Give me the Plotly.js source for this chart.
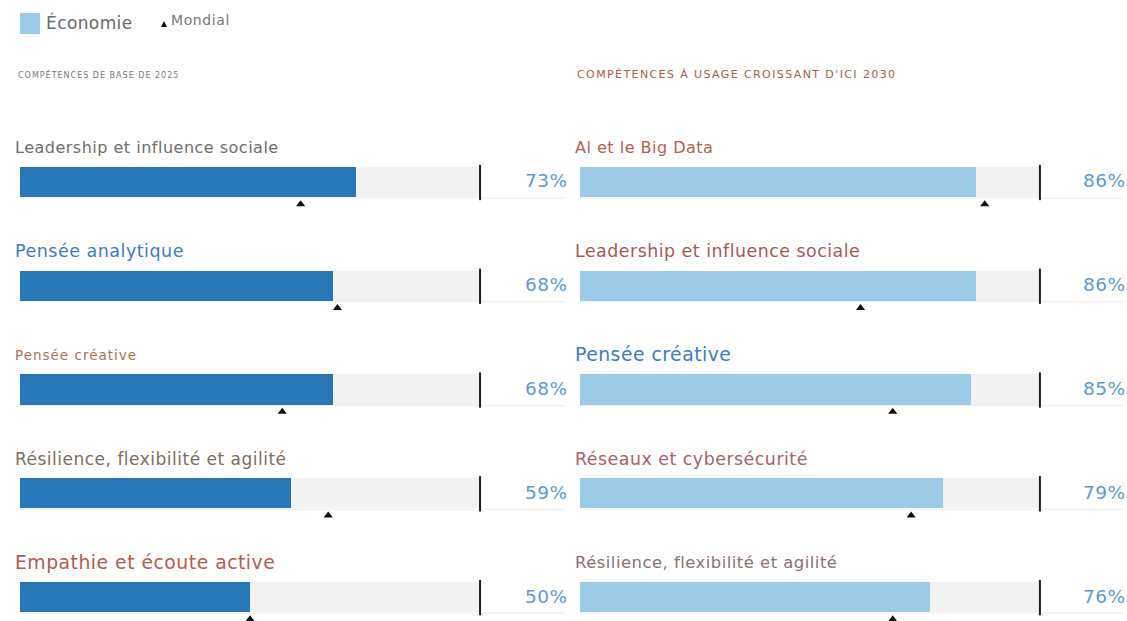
<!DOCTYPE html>
<html>
<head>
<meta charset="utf-8">
<script src="https://cdn.plot.ly/plotly-3.0.1.min.js"></script>
<style>html,body{margin:0;padding:0;background:#fff}#chart{width:1127px;height:621px}</style>
</head>
<body>
<div id="chart"></div>
<script>
// ---- data ----
const leftTitle = "COMPÉTENCES DE BASE DE 2025";
const rightTitle = "COMPÉTENCES À USAGE CROISSANT D'ICI 2030";
const legendNames = ["Économie", "Mondial"];
const leftSkills = ["Leadership et influence sociale", "Pensée analytique", "Pensée créative", "Résilience, flexibilité et agilité", "Empathie et écoute active"];
const leftEconomy = [73, 68, 68, 59, 50];
const leftWorld = [61, 69, 57, 67, 50];
const rightSkills = ["Al et le Big Data", "Leadership et influence sociale", "Pensée créative", "Réseaux et cybersécurité", "Résilience, flexibilité et agilité"];
const rightEconomy = [86, 86, 85, 79, 76];
const rightWorld = [88, 61, 68, 72, 68];
const fullScale = 100;

// ---- styles ----
const leftLabelColors = ["#6e6e6e", "#3d7cc4", "#b0714f", "#7d6e62", "#b35e4c"];
const leftLabelSizes = [16, 17.5, 13.5, 17, 18.8];
const leftLabelSpacing = [0.5, 0.5, 1, 0.5, 0.5];
const rightLabelColors = ["#b55f4f", "#a55a56", "#3d7cc4", "#a3646a", "#8e6f74"];
const rightLabelSizes = [16, 17.4, 18.8, 17.4, 16.4];
const rightLabelSpacing = [0.5, 0.5, 0.5, 0.5, 0.5];
const FONT = "DejaVu Sans, Verdana, sans-serif";
const sp = (t, s) => '<span style="letter-spacing:' + s + 'px">' + t + '</span>';

const rows = leftSkills.map((_, i) => i);
const barW = 0.29;
const triOff = 0.215;
const labOff = -0.335;
const leftMax = 118.9, rightMax = 118.5;
const W = 1127, H = 621;

const traces = [
  {type: 'bar', orientation: 'h', x: rows.map(() => fullScale), y: rows, width: barW, xaxis: 'x', yaxis: 'y',
   marker: {color: '#f2f2f2'}, showlegend: false, hoverinfo: 'skip'},
  {type: 'bar', orientation: 'h', x: leftEconomy, y: rows, width: barW, xaxis: 'x', yaxis: 'y',
   marker: {color: '#2878b7'}, name: legendNames[0], showlegend: false},
  {type: 'bar', orientation: 'h', x: rows.map(() => fullScale), y: rows, width: barW, xaxis: 'x2', yaxis: 'y2',
   marker: {color: '#f2f2f2'}, showlegend: false, hoverinfo: 'skip'},
  {type: 'bar', orientation: 'h', x: rightEconomy, y: rows, width: barW, xaxis: 'x2', yaxis: 'y2',
   marker: {color: '#9ccbe7'}, name: legendNames[0], showlegend: false},
  {type: 'scatter', mode: 'markers', x: leftWorld, y: rows.map(r => r + triOff), xaxis: 'x', yaxis: 'y',
   marker: {symbol: 'triangle-up', size: 8, color: '#111'}, name: legendNames[1], showlegend: false},
  {type: 'scatter', mode: 'markers', x: rightWorld, y: rows.map(r => r + triOff), xaxis: 'x2', yaxis: 'y2',
   marker: {symbol: 'triangle-up', size: 8, color: '#111'}, name: legendNames[1], showlegend: false}
];

const shapes = [];
const annotations = [];
[['x', 'y', leftSkills, leftEconomy, leftLabelColors, leftLabelSizes, leftLabelSpacing, leftMax],
 ['x2', 'y2', rightSkills, rightEconomy, rightLabelColors, rightLabelSizes, rightLabelSpacing, rightMax]].forEach(([xa, ya, skills, vals, cols, sizes, sps, mx]) => {
  rows.forEach(i => {
    shapes.push({type: 'line', xref: xa, yref: ya, x0: 0, x1: mx - 0.5, y0: i + barW / 2 + 0.01, y1: i + barW / 2 + 0.01,
      line: {color: '#ececec', width: 1}, layer: 'below'});
    shapes.push({type: 'line', xref: xa, yref: ya, x0: fullScale, x1: fullScale, y0: i - barW / 2 - 0.02, y1: i + barW / 2 + 0.03,
      line: {color: '#1e1e1e', width: 2}});
    annotations.push({xref: xa, yref: ya, x: 0, y: i + labOff, xanchor: 'left', yanchor: 'middle', xshift: -7,
      text: sp(skills[i], sps[i]), showarrow: false, font: {family: FONT, size: sizes[i], color: cols[i]}});
    annotations.push({xref: xa, yref: ya, x: mx, y: i, xanchor: 'right', yanchor: 'middle', xshift: 3, yshift: 1,
      text: sp(vals[i] + '%', 0.5), showarrow: false, font: {family: FONT, size: 18.5, color: '#5a9bd3'}});
  });
});
// panel titles
annotations.push({xref: 'paper', yref: 'paper', x: 16 / W, y: 1 - 75 / H, xanchor: 'left', yanchor: 'middle',
  text: sp(leftTitle, 1.0), showarrow: false, font: {family: FONT, size: 8, color: '#7a7a7a'}});
annotations.push({xref: 'paper', yref: 'paper', x: 575 / W, y: 1 - 75 / H, xanchor: 'left', yanchor: 'middle',
  text: sp(rightTitle, 1.4), showarrow: false, font: {family: FONT, size: 11, color: '#a66048'}});
// legend (drawn manually)
shapes.push({type: 'rect', xref: 'paper', yref: 'paper', x0: 20 / W, x1: 40 / W, y0: 1 - 34 / H, y1: 1 - 13 / H,
  fillcolor: '#9ccbe7', line: {width: 0}});
shapes.push({type: 'path', xref: 'paper', yref: 'paper',
  path: `M ${161 / W} ${1 - 27 / H} L ${164 / W} ${1 - 21 / H} L ${167 / W} ${1 - 27 / H} Z`,
  fillcolor: '#111', line: {width: 0}});
annotations.push({xref: 'paper', yref: 'paper', x: 44 / W, y: 1 - 22 / H, xanchor: 'left', yanchor: 'middle',
  text: sp(legendNames[0], 0.4), showarrow: false, font: {family: FONT, size: 17, color: '#6a6a6a'}});
annotations.push({xref: 'paper', yref: 'paper', x: 169 / W, y: 1 - 20 / H, xanchor: 'left', yanchor: 'middle',
  text: sp(legendNames[1], 0.6), showarrow: false, font: {family: FONT, size: 14, color: '#777'}});

const yRange = [4.231, -1.754];
const axisOff = {showgrid: false, zeroline: false, showticklabels: false, ticks: '', showline: false, fixedrange: true};
const layout = {
  width: W, height: H,
  margin: {l: 0, r: 0, t: 0, b: 0},
  paper_bgcolor: '#fff', plot_bgcolor: 'rgba(0,0,0,0)',
  barmode: 'overlay',
  bargap: 0,
  font: {family: FONT},
  showlegend: false,
  xaxis: Object.assign({domain: [20 / W, 567 / W], range: [0, leftMax]}, axisOff),
  yaxis: Object.assign({domain: [0, 1], range: yRange, anchor: 'x'}, axisOff),
  xaxis2: Object.assign({domain: [580 / W, 1125 / W], range: [0, rightMax], anchor: 'y2'}, axisOff),
  yaxis2: Object.assign({domain: [0, 1], range: yRange, anchor: 'x2'}, axisOff),
  shapes: shapes,
  annotations: annotations
};
Plotly.newPlot('chart', traces, layout, {displayModeBar: false, staticPlot: true});
</script>
</body>
</html>
